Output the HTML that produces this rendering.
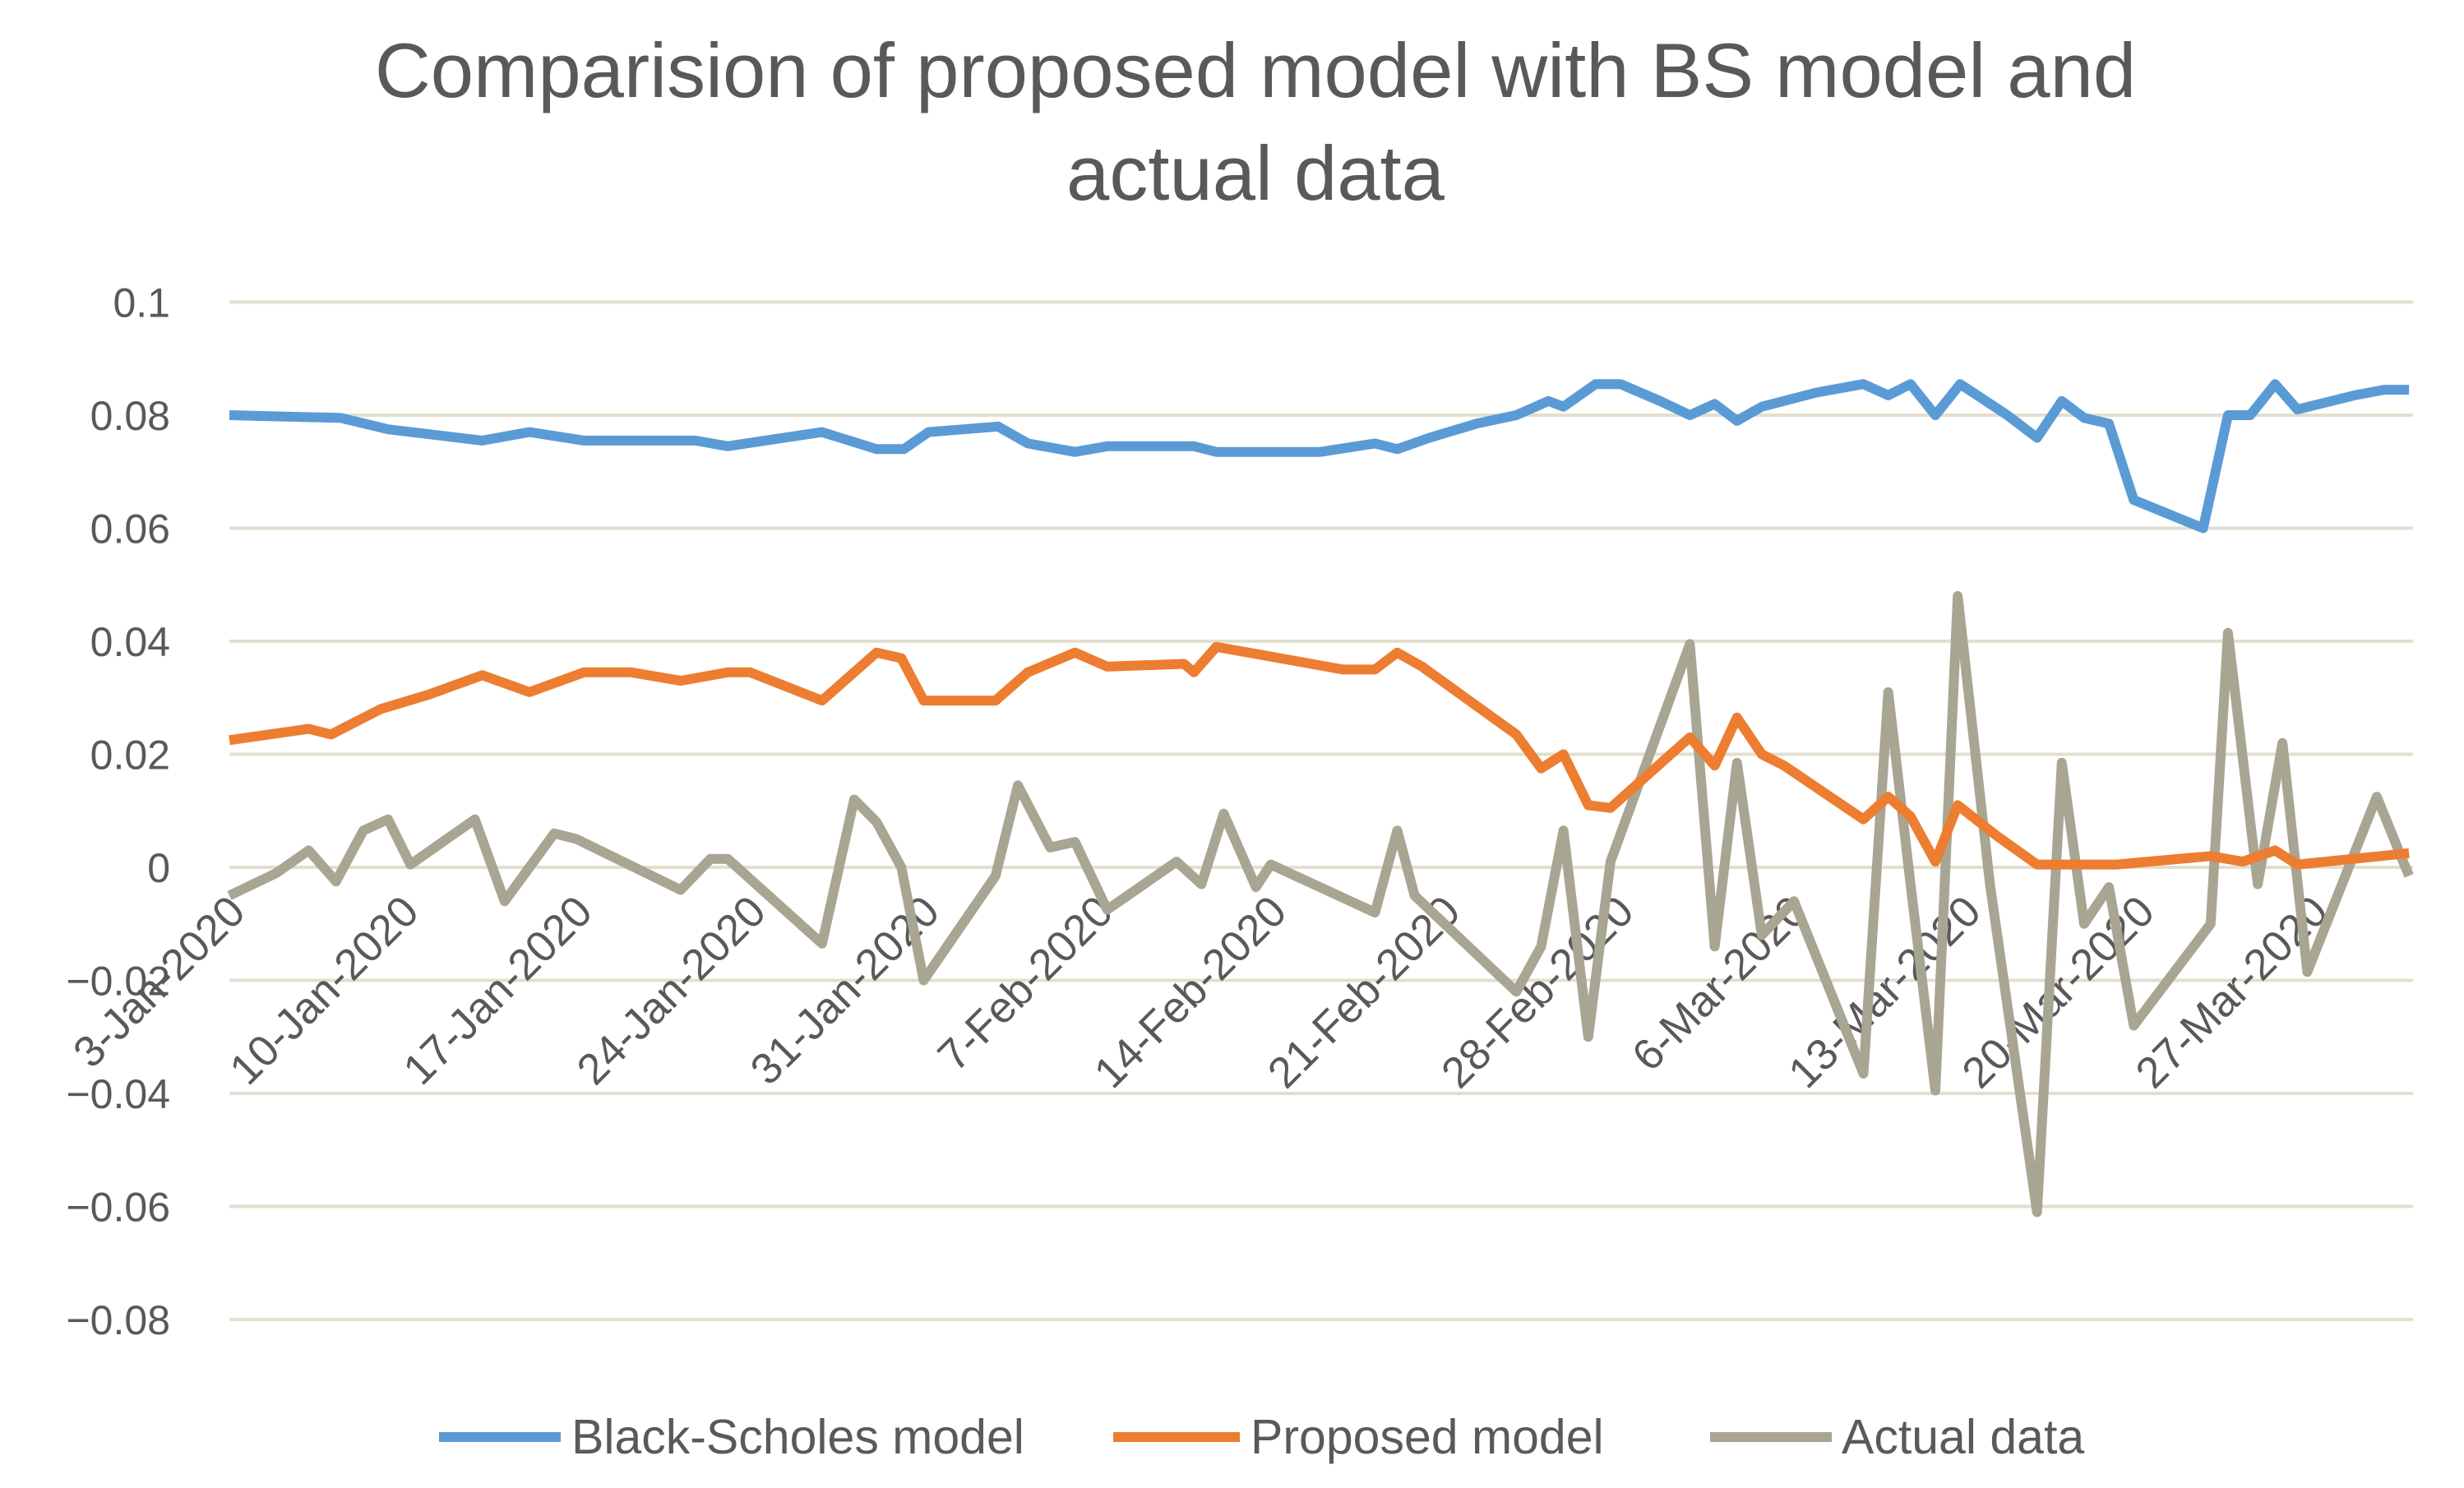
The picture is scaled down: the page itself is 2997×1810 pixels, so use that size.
<!DOCTYPE html>
<html><head><meta charset="utf-8"><style>
html,body{margin:0;padding:0;background:#fff;}
svg{display:block;font-family:"Liberation Sans",sans-serif;}
</style></head><body>
<svg id="chart" width="2997" height="1810" viewBox="0 0 2997 1810">
<g fill="#595959" font-size="94" text-anchor="middle">
<text x="1527" y="118">Comparision of proposed model with BS model and</text>
<text x="1527" y="243">actual data</text>
</g>
<g id="grid"></g><g id="ylabels"></g><g id="xlabels"></g><g id="series"></g>
<g font-size="59" fill="#595959">
<g><line x1="534" y1="1748" x2="682" y2="1748" stroke="#5b9bd5" stroke-width="12"/><text x="695" y="1768">Black-Scholes model</text></g>
<g><line x1="1354" y1="1748" x2="1508" y2="1748" stroke="#ed7d31" stroke-width="12"/><text x="1521" y="1768">Proposed model</text></g>
<g><line x1="2080" y1="1748" x2="2228" y2="1748" stroke="#a9a593" stroke-width="12"/><text x="2240" y="1768">Actual data</text></g>
</g>
</svg>
<script>
const yTicks=[0.1,0.08,0.06,0.04,0.02,0,-0.02,-0.04,-0.06,-0.08];
const yTickLabels=["0.1","0.08","0.06","0.04","0.02","0","\u22120.02","\u22120.04","\u22120.06","\u22120.08"];
const xTickDays=[0,7,14,21,28,35,42,49,56,63,70,77,84];
const xTickLabels=["3-Jan-2020","10-Jan-2020","17-Jan-2020","24-Jan-2020","31-Jan-2020","7-Feb-2020","14-Feb-2020","21-Feb-2020","28-Feb-2020","6-Mar-2020","13-Mar-2020","20-Mar-2020","27-Mar-2020"];
const bsDays=[0,4.5,6.4,10.2,12.1,14.3,18.8,20.1,23.9,26.1,27.2,28.2,31.0,32.2,34.1,35.4,38.9,39.8,44.0,46.2,47.1,48.4,50.3,51.9,53.2,53.8,55.1,56.1,57.7,58.9,59.9,60.8,61.8,64.0,65.9,66.9,67.8,68.8,69.8,71.7,72.9,73.9,74.8,75.8,76.8,79.6,80.6,81.5,82.5,83.4,85.7,86.9,87.9];
const bsValues=[0.080,0.0795,0.0775,0.0755,0.077,0.0755,0.0755,0.0745,0.077,0.074,0.074,0.077,0.078,0.075,0.0735,0.0745,0.0745,0.0735,0.0735,0.075,0.074,0.076,0.0785,0.080,0.0825,0.0815,0.0855,0.0855,0.0825,0.080,0.082,0.079,0.0815,0.084,0.0855,0.0835,0.0855,0.080,0.0855,0.080,0.076,0.0825,0.0795,0.0785,0.065,0.060,0.080,0.080,0.0855,0.081,0.0835,0.0845,0.0845];
const pmDays=[0,3.2,4.1,6.1,8.0,10.2,12.1,14.3,16.2,18.2,20.1,21.0,23.9,26.1,27.1,28.0,30.9,32.2,34.1,35.4,38.5,38.9,39.8,41.1,44.9,46.2,47.1,48.1,50.0,51.9,52.9,53.8,54.8,55.7,58.9,59.9,60.8,61.8,62.7,65.9,66.9,67.8,68.8,69.7,71.3,72.9,76.1,79.9,81.2,82.5,83.4,87.9];
const pmValues=[0.0225,0.0245,0.0235,0.028,0.0305,0.034,0.031,0.0345,0.0345,0.033,0.0345,0.0345,0.0295,0.038,0.037,0.0295,0.0295,0.0345,0.038,0.0355,0.036,0.0345,0.039,0.038,0.035,0.035,0.038,0.0355,0.0295,0.0235,0.0175,0.020,0.011,0.0105,0.023,0.018,0.0265,0.020,0.018,0.0085,0.0125,0.009,0.001,0.011,0.0055,0.0005,0.0005,0.002,0.001,0.003,0.0005,0.0025];
const adDays=[0,1.9,3.2,4.3,5.4,6.4,7.3,9.9,11.1,13.1,14.0,18.2,19.4,20.1,23.9,25.2,26.1,27.1,28.0,30.9,31.8,33.1,34.1,35.4,38.2,39.2,40.1,41.4,42.0,46.2,47.1,47.8,51.9,52.9,53.8,54.8,55.7,58.9,59.9,60.8,61.8,63.1,65.9,66.9,67.8,68.8,69.7,71.0,72.9,73.9,74.8,75.8,76.8,79.9,80.6,81.8,82.8,83.8,86.6,87.9];
const adValues=[-0.005,-0.001,0.003,-0.0025,0.0065,0.0085,0.0005,0.0085,-0.006,0.006,0.005,-0.004,0.0015,0.0015,-0.0135,0.012,0.008,0,-0.02,-0.0015,0.0145,0.0035,0.0045,-0.0075,0.001,-0.003,0.0095,-0.0035,0.0005,-0.008,0.0065,-0.005,-0.022,-0.014,0.0065,-0.030,0.001,0.0395,-0.014,0.0185,-0.012,-0.006,-0.0365,0.031,-0.003,-0.0395,0.048,-0.003,-0.061,0.0185,-0.010,-0.0035,-0.028,-0.010,0.0415,-0.003,0.022,-0.0185,0.0125,-0.0015];

const NS="http://www.w3.org/2000/svg";
const X0=279,X1=2935,PXDAY=30.16,Y0=1055,PXUNIT=137.5/0.02;
function xs(d){return X0+d*PXDAY;}
function ys(v){return Y0-v*PXUNIT;}
function mk(tag,attrs,parent){const e=document.createElementNS(NS,tag);for(const k in attrs)e.setAttribute(k,attrs[k]);parent.appendChild(e);return e;}
const grid=document.getElementById('grid'),yl=document.getElementById('ylabels'),xl=document.getElementById('xlabels'),ser=document.getElementById('series');
yTicks.forEach((t,i)=>{
  const l=mk('line',{x1:X0,x2:X1,y1:ys(t),y2:ys(t),stroke:'#e3dfcf','stroke-width':4},grid);
  
  
  const tx=mk('text',{x:207,y:ys(t)+18,'text-anchor':'end','font-size':50,fill:'#595959'},yl);
  tx.textContent=yTickLabels[i];
  
  
});
xTickDays.forEach((d,i)=>{
  const x=xs(d)+22,y=1112;
  const tx=mk('text',{x:x,y:y,'text-anchor':'end','font-size':53,fill:'#595959',transform:`rotate(-45 ${x} ${y})`},xl);
  tx.textContent=xTickLabels[i];
  
  
});
function drawSeries(days,vals,color,name){
  const pts=days.map((d,i)=>xs(d).toFixed(1)+','+ys(vals[i]).toFixed(1)).join(' ');
  const p=mk('polyline',{points:pts,fill:'none',stroke:color,'stroke-width':12,'stroke-linejoin':'round'},ser);
  
  
}
drawSeries(bsDays,bsValues,'#5b9bd5','black-scholes-line');
drawSeries(adDays,adValues,'#a9a593','actual-data-line');
drawSeries(pmDays,pmValues,'#ed7d31','proposed-model-line');
</script>
</body></html>
